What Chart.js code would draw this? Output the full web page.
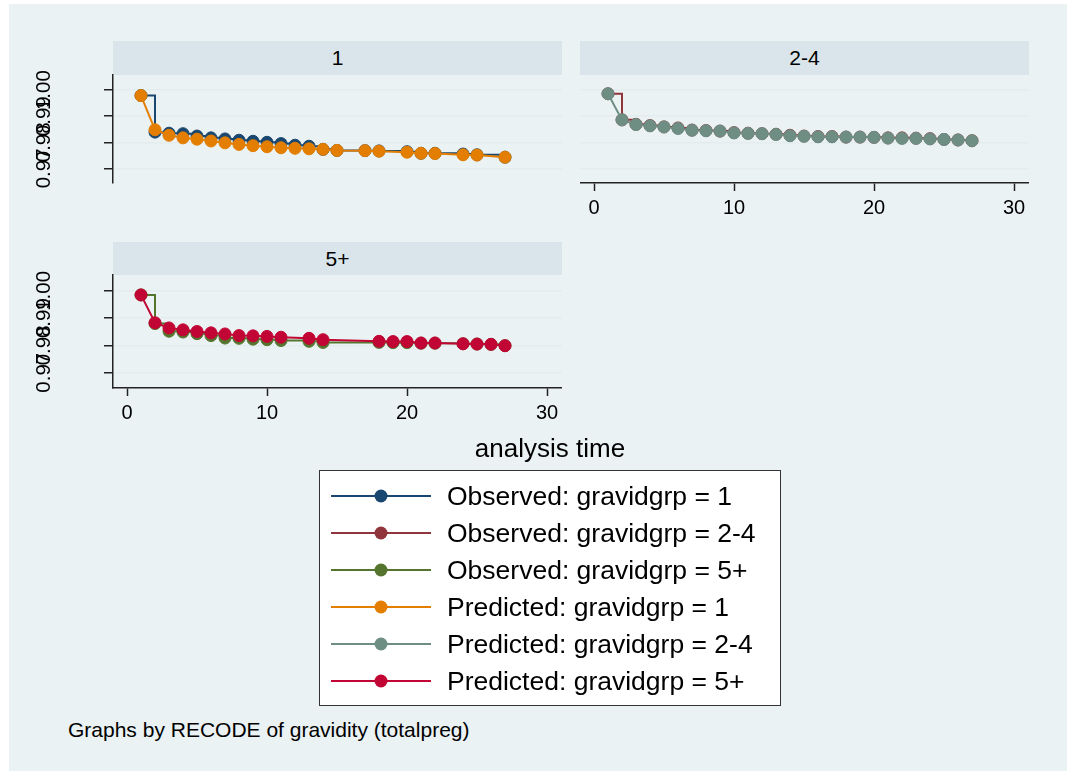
<!DOCTYPE html>
<html>
<head>
<meta charset="utf-8">
<script src="https://cdn.jsdelivr.net/npm/chart.js@4.4.1/dist/chart.umd.min.js"></script>
<style>
  html, body { margin: 0; padding: 0; background: #fff; }
  #root { position: relative; width: 1067px; height: 771px; overflow: hidden; background: #fff;
          font-family: "Liberation Sans", Arial, Helvetica, sans-serif; color: #000; }
  #bg { position: absolute; left: 9px; top: 4px; right: 0; bottom: 0; background: #EAF2F3; }
  .hdr { position: absolute; background: #D9E5EA; font-size: 21px; text-align: center; }
  canvas { position: absolute; }
  #xtitle { position: absolute; font-size: 26px; white-space: nowrap; transform: translate(-50%, -50%); }
  #legend { position: absolute; left: 319px; top: 470px; width: 460px; height: 234px;
            background: #fff; border: 1px solid #333; }
  .lrow { position: absolute; left: 0; height: 36px; width: 100%; }
  .lrow svg { position: absolute; left: 11px; top: 0; }
  .lrow span { position: absolute; left: 127px; top: 50%; transform: translateY(-50%); font-size: 26.5px; white-space: nowrap; }
  #note { position: absolute; left: 68px; top: 730px; transform: translateY(-50%); font-size: 21px; white-space: nowrap; }
</style>
</head>
<body>
<div id="root">
  <div id="bg"></div>
  <div class="hdr" id="h1" style="left:113px;top:41px;width:449px;height:34px;line-height:34px;">1</div>
  <div class="hdr" id="h2" style="left:580px;top:41px;width:449px;height:34px;line-height:34px;">2-4</div>
  <div class="hdr" id="h3" style="left:113px;top:242px;width:449px;height:33px;line-height:33px;">5+</div>
  <canvas id="c1" width="562" height="148" style="left:0px;top:55px;"></canvas>
  <canvas id="c2" width="449" height="158" style="left:580px;top:75px;"></canvas>
  <canvas id="c3" width="562" height="183" style="left:0px;top:255px;"></canvas>
  <div id="xtitle" style="left:550px;top:448px;">analysis time</div>
  <div id="legend"></div>
  <div id="note">Graphs by RECODE of gravidity (totalpreg)</div>
</div>
<script>
// ---------------- data ----------------
const PANEL_TITLES = ["1", "2-4", "5+"];

const TIME_G1 = [1,2,3,4,5,6,7,8,9,10,11,12,13,14,15,17,18,20,21,22,24,25,27];
const OBS_G1  = [0.9979,0.9839,0.9835,0.9833,0.9824,0.9817,0.9813,0.9808,0.9804,0.9800,0.9795,0.9789,0.9785,0.9773,0.9769,0.9768,0.9767,0.9764,0.9758,0.9758,0.9755,0.9752,0.9743];
const PRED_G1 = [0.9979,0.9848,0.9827,0.9817,0.9812,0.9805,0.9798,0.9792,0.9787,0.9783,0.9779,0.9777,0.9775,0.9773,0.9769,0.9768,0.9766,0.9762,0.9758,0.9757,0.9752,0.9751,0.9743];

const TIME_G2 = [1,2,3,4,5,6,7,8,9,10,11,12,13,14,15,16,17,18,19,20,21,22,23,24,25,26,27];
const OBS_G2  = [0.9986,0.9886,0.9869,0.9864,0.9859,0.9855,0.9847,0.9845,0.9843,0.9837,0.9835,0.9833,0.9831,0.9827,0.9824,0.9822,0.9822,0.9820,0.9820,0.9819,0.9817,0.9817,0.9816,0.9814,0.9811,0.9809,0.9806];
const PRED_G2 = [0.9986,0.9886,0.9868,0.9863,0.9859,0.9853,0.9846,0.9844,0.9843,0.9836,0.9834,0.9833,0.9830,0.9825,0.9823,0.9821,0.9821,0.9820,0.9820,0.9819,0.9816,0.9815,0.9815,0.9813,0.9811,0.9809,0.9806];

const TIME_G3 = [1,2,3,4,5,6,7,8,9,10,11,13,14,18,19,20,21,22,24,25,26,27];
const OBS_G3  = [0.9985,0.9880,0.9852,0.9849,0.9843,0.9836,0.9827,0.9826,0.9823,0.9821,0.9818,0.9815,0.9811,0.9811,0.9810,0.9810,0.9808,0.9808,0.9806,0.9805,0.9804,0.9799];
const PRED_G3 = [0.9985,0.9883,0.9864,0.9857,0.9851,0.9846,0.9842,0.9836,0.9835,0.9833,0.9830,0.9826,0.9821,0.9815,0.9814,0.9814,0.9809,0.9809,0.9806,0.9805,0.9804,0.9799];

const Y_TICKS = [0.97, 0.98, 0.99, 1.00];
const Y_TICK_LABELS = ["0.97", "0.98", "0.99", "1.00"];
const X_TICKS = [0, 10, 20, 30];
const X_TICK_LABELS = ["0", "10", "20", "30"];

const SERIES_LABELS = [
  "Observed: gravidgrp = 1", "Observed: gravidgrp = 2-4", "Observed: gravidgrp = 5+",
  "Predicted: gravidgrp = 1", "Predicted: gravidgrp = 2-4", "Predicted: gravidgrp = 5+"
];
const SERIES_COLORS = ["#1A476F", "#90353B", "#55752F", "#E37E00", "#6E8E84", "#C10534"];

// ---------------- styling ----------------
const FONT = '"Liberation Sans", Arial, Helvetica, sans-serif';
const GRID_COLOR = "#E3ECEF";
const AXIS_COLOR = "#222";
const Y_MIN = 0.9644, Y_MAX = 1.0058;
const X_MIN = -1, X_MAX = 31.07;

const yLabelPlugin = {
  id: "yLabels",
  afterDraw(chart, args, opts) {
    if (!opts || !opts.show) return;
    const s = chart.scales.y, ctx = chart.ctx;
    ctx.save();
    ctx.font = "20.5px " + FONT;
    ctx.fillStyle = "#000";
    ctx.textAlign = "center";
    ctx.textBaseline = "middle";
    Y_TICKS.forEach((v, i) => {
      const py = s.getPixelForValue(v);
      ctx.save();
      ctx.translate(opts.x, py);
      ctx.rotate(-Math.PI / 2);
      ctx.fillText(Y_TICK_LABELS[i], 0, 0);
      ctx.restore();
    });
    ctx.restore();
  }
};

function datasets(times, obs, pred, oi, pi) {
  const base = { borderWidth: 2, pointRadius: 6, pointBorderWidth: 1, tension: 0, fill: false };
  return [
    Object.assign({}, base, {
      label: SERIES_LABELS[oi], data: times.map((t, i) => ({ x: t, y: obs[i] })),
      borderColor: SERIES_COLORS[oi], backgroundColor: SERIES_COLORS[oi],
      pointBackgroundColor: SERIES_COLORS[oi], pointBorderColor: SERIES_COLORS[oi],
      stepped: true, order: 2
    }),
    Object.assign({}, base, {
      label: SERIES_LABELS[pi], data: times.map((t, i) => ({ x: t, y: pred[i] })),
      borderColor: SERIES_COLORS[pi], backgroundColor: SERIES_COLORS[pi],
      pointBackgroundColor: SERIES_COLORS[pi], pointBorderColor: SERIES_COLORS[pi],
      stepped: false, order: 1
    })
  ];
}

function makeChart(id, ds, showY, showX, yWidth, padTop, padBottom) {
  return new Chart(document.getElementById(id), {
    type: "line",
    data: { datasets: ds },
    plugins: [yLabelPlugin],
    options: {
      responsive: false, animation: false, events: [],
      layout: { padding: { top: padTop, bottom: padBottom, left: 0, right: 0 }, autoPadding: false },
      plugins: { legend: { display: false }, tooltip: { enabled: false }, title: { display: false },
                 yLabels: { show: showY, x: 44 } },
      scales: {
        x: {
          type: "linear", min: X_MIN, max: X_MAX, display: showX, position: "bottom",
          afterBuildTicks: s => { s.ticks = X_TICKS.map(v => ({ value: v })); },
          ticks: { autoSkip: false, maxRotation: 0, minRotation: 0, padding: 5, color: "#000",
                   font: { size: 20, family: FONT },
                   callback: v => X_TICK_LABELS[X_TICKS.indexOf(v)] },
          grid: { display: true, drawOnChartArea: false, drawTicks: true, tickLength: 8,
                  tickColor: AXIS_COLOR, tickWidth: 1.5 },
          border: { display: true, color: AXIS_COLOR, width: 1.5 },
          afterFit: s => { s.height = showX ? 50 : 0; s.paddingLeft = 0; s.paddingRight = 0; }
        },
        y: {
          type: "linear", min: Y_MIN, max: Y_MAX, display: true, position: "left",
          afterBuildTicks: s => { s.ticks = Y_TICKS.map(v => ({ value: v })); },
          ticks: { display: false },
          grid: { display: true, drawOnChartArea: true, drawTicks: showY, tickLength: 9,
                  color: GRID_COLOR, lineWidth: 1.5, tickColor: AXIS_COLOR, tickWidth: 1.5 },
          border: { display: showY, color: AXIS_COLOR, width: 1.5 },
          afterFit: s => { s.width = yWidth; s.paddingTop = 0; s.paddingBottom = 0; }
        }
      }
    }
  });
}

// panel 1: plot area 75..183 (canvas padded 20px top/bottom for rotated tick labels)
makeChart("c1", datasets(TIME_G1, OBS_G1, PRED_G1, 0, 3), true, false, 113, 20, 20);
// panel 2: plot area 75..183 + x axis
makeChart("c2", datasets(TIME_G2, OBS_G2, PRED_G2, 1, 4), false, true, 0, 0, 0);
// panel 3: plot area 275..388 + x axis
makeChart("c3", datasets(TIME_G3, OBS_G3, PRED_G3, 2, 5), true, true, 113, 20, 0);

// ---------------- legend ----------------
const legend = document.getElementById("legend");
const ROW_CENTERS = [25, 61.5, 98.5, 136, 173, 210];
SERIES_LABELS.forEach((lab, i) => {
  const row = document.createElement("div");
  row.className = "lrow";
  row.style.top = (ROW_CENTERS[i] - 18) + "px";
  const c = SERIES_COLORS[i];
  row.innerHTML =
    '<svg width="100" height="36" viewBox="0 0 100 36">' +
    '<line x1="0" y1="18" x2="100" y2="18" stroke="' + c + '" stroke-width="2"/>' +
    '<circle cx="50" cy="18" r="6.5" fill="' + c + '"/></svg>' +
    '<span>' + lab + '</span>';
  legend.appendChild(row);
});
</script>
</body>
</html>
